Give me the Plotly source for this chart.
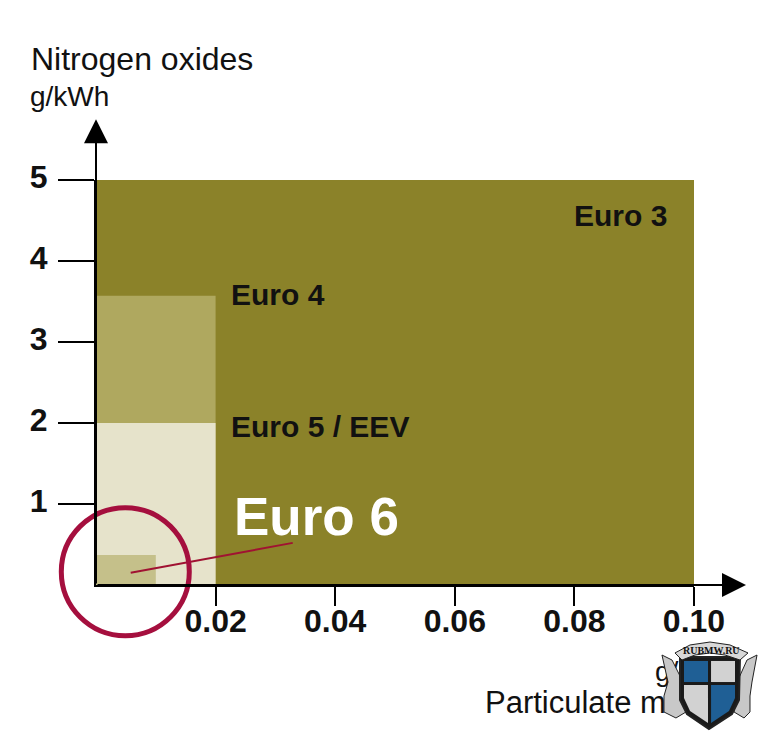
import plotly.graph_objects as go

# Data
standards = ["Euro 3", "Euro 4", "Euro 5 / EEV", "Euro 6"]
pm_limits = [0.10, 0.02, 0.02, 0.01]
nox_limits = [5.0, 3.57, 2.0, 0.37]
x_ticks = [0.02, 0.04, 0.06, 0.08, 0.10]
x_tick_labels = ["0.02", "0.04", "0.06", "0.08", "0.10"]
y_ticks = [1, 2, 3, 4, 5]
y_tick_labels = ["1", "2", "3", "4", "5"]

# Style
colors = ["#8B8229", "#AFA85F", "#E6E3CB", "#C5C08A"]
CRIMSON = "#A50F3E"
FONT = "Liberation Sans"
OFF = 8
W, H = 764, 734


def px(x):
    return (x - OFF) / W


def py(y):
    return 1 - (y - OFF) / H


def path(points):
    return "M" + " L".join(f"{px(a):.4f},{py(b):.4f}" for a, b in points) + " Z"


fig = go.Figure()
for name, pm, nox, col in zip(standards, pm_limits, nox_limits, colors):
    fig.add_trace(go.Bar(x=[pm / 2], y=[nox], width=[pm], name=name,
                         marker=dict(color=col, line=dict(width=0))))

# Pointer from the Euro 6 label to the Euro 6 box
fig.add_trace(go.Scatter(x=[0.0058, 0.0329], y=[0.15, 0.52], mode="lines",
                         line=dict(color="#A01232", width=2), cliponaxis=False))
# Ring round the Euro 6 box
fig.add_trace(go.Scatter(x=[0.0049], y=[0.165], mode="markers", cliponaxis=False,
                         marker=dict(size=128, color="rgba(0,0,0,0)",
                                     line=dict(color=CRIMSON, width=5))))

# x-axis title and unit sit under the crest, so they are drawn as trace text
# on a hidden full-page pair of axes
fig.add_trace(go.Scatter(
    x=[655, 485], y=[674, 705], xaxis="x2", yaxis="y2",
    mode="text", text=["g/kWh", "Particulate matter"], textposition="middle right",
    textfont=dict(family=FONT, size=[28, 31], color="#111111")))

ann = []


def label(text, x, y, size, color="#111111", bold=True, xanchor="left"):
    ann.append(dict(text=f"<b>{text}</b>" if bold else text, x=px(x), y=py(y),
                    xref="paper", yref="paper", showarrow=False, xanchor=xanchor,
                    yanchor="middle", font=dict(family=FONT, size=size, color=color)))


label("Nitrogen oxides", 29, 59, 32, bold=False)
label("g/kWh", 28, 97, 28, bold=False)
label("Euro 3", 572, 216, 30)
label("Euro 4", 229, 294, 30)
label("Euro 5 / EEV", 229, 426, 30)
label("Euro 6", 232, 516, 53, color="white")

# Axis arrows
for x0, y0, x1, y1 in [(0, 0, 0.1087, 0), (0, 0, 0, 5.75)]:
    ann.append(dict(x=x1, y=y1, ax=x0, ay=y0, xref="x", yref="y", axref="x", ayref="y",
                    text="", showarrow=True, arrowhead=2, arrowsize=2.4, arrowwidth=2,
                    arrowcolor="black"))

# Site crest in the lower right corner of the picture
CREST = [
    ([(662, 655), (672, 660), (682, 680), (686, 712), (676, 718), (664, 712), (664, 696), (668, 682)], "#C8C8C8", 1),
    ([(757, 655), (747, 660), (738, 680), (734, 712), (744, 718), (750, 712), (750, 696), (752, 682)], "#C8C8C8", 1),
    ([(680, 657), (740, 657), (739, 700), (732, 714), (709, 729), (687, 714), (680, 700)], "#1A1A1A", 2),
    ([(684, 661), (708, 661), (708, 682), (684, 682)], "#1F5F95", 0),
    ([(711, 661), (735, 661), (735, 682), (711, 682)], "#D2D2D2", 0),
    ([(684, 685), (708, 685), (708, 723), (690, 711), (684, 698)], "#D2D2D2", 0),
    ([(711, 685), (735, 685), (735, 698), (729, 711), (711, 723)], "#1F5F95", 0),
    ([(675, 653), (690, 645), (710, 642), (730, 645), (748, 653), (740, 660), (725, 655), (710, 653), (695, 655), (682, 660)], "#D8D8D8", 1),
]
shapes = [dict(type="path", path=path(p), xref="paper", yref="paper", fillcolor=c,
               layer="above", line=dict(color="#222222", width=w))
          for p, c, w in CREST]
ann.append(dict(text="<b>RUBMW.RU</b>", x=px(711), y=py(650), xref="paper", yref="paper",
                xanchor="center", yanchor="middle", showarrow=False,
                font=dict(family="Liberation Serif", size=10, color="#111111")))

fig.update_layout(
    width=W, height=H, autosize=False, showlegend=False, barmode="overlay",
    paper_bgcolor="white", plot_bgcolor="rgba(0,0,0,0)",
    margin=dict(l=0, r=0, t=0, b=0, pad=0, autoexpand=False),
    annotations=ann, shapes=shapes,
    font=dict(family=FONT),
    xaxis=dict(domain=[px(96), px(694)], range=[0, 0.1], tickvals=x_ticks,
               ticktext=[f"<b>{t}</b>" for t in x_tick_labels],
               ticks="outside", ticklen=19, tickwidth=1.5, tickcolor="black", showgrid=False,
               zeroline=False, showline=True, linecolor="black", linewidth=2,
               tickfont=dict(family=FONT, size=32, color="#111111"), ticklabelstandoff=-12),
    yaxis=dict(domain=[py(585), py(180)], range=[0, 5], tickvals=y_ticks,
               ticktext=[f"<b>{t}</b>" for t in y_tick_labels],
               ticks="outside", ticklen=36, tickwidth=1.5, tickcolor="black", showgrid=False,
               zeroline=False, showline=True, linecolor="black", linewidth=2,
               tickfont=dict(family=FONT, size=32, color="#111111"), ticklabelstandoff=4,
               ticklabelshift=-3),
    xaxis2=dict(domain=[0, 1], range=[OFF, OFF + W], anchor="y2", visible=False),
    yaxis2=dict(domain=[0, 1], range=[OFF + H, OFF], anchor="x2", visible=False),
)

fig.write_html("out.html")
